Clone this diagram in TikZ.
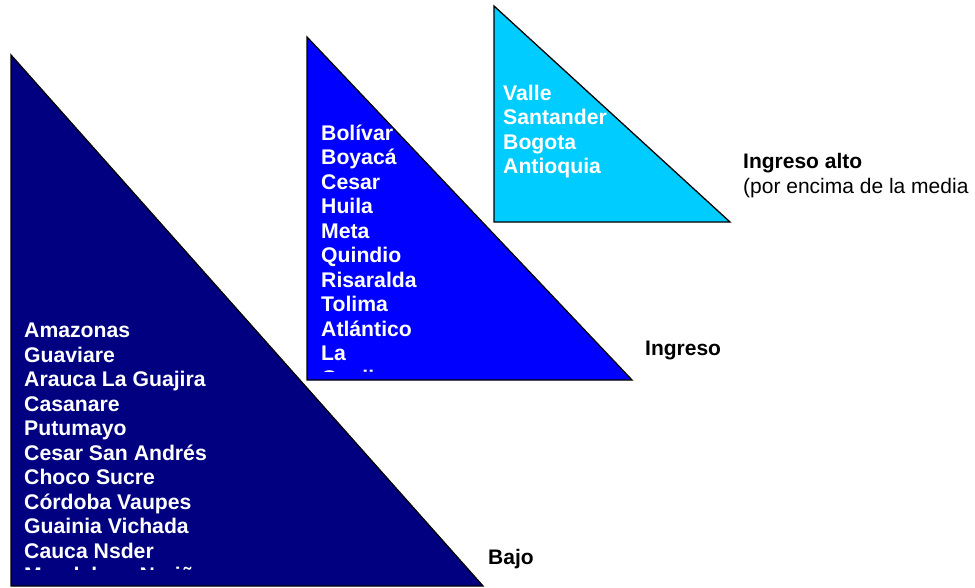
\documentclass[tikz,border=0pt]{standalone}
\usepackage{fontspec}
\setmainfont{Liberation Sans}
\begin{document}
\begin{tikzpicture}[x=1pt,y=-1pt,
  tri/.style={draw=black,line width=1.3pt,line join=miter},
  intext/.style={text=white,font=\fontsize{21.2}{24.5}\selectfont\bfseries,align=left,anchor=base west,inner sep=0pt},
  lbl/.style={text=black,font=\fontsize{21}{25}\selectfont,align=left,anchor=base west,inner sep=0pt}]
\definecolor{navyc}{HTML}{000080}
\definecolor{bluec}{HTML}{0000FF}
\definecolor{cyanc}{HTML}{00CCFF}
\useasboundingbox (0,0) rectangle (975,587);
% triangles
\draw[tri,fill=navyc] (11,55) -- (11,586) -- (483,586) -- cycle;
\draw[tri,fill=bluec] (307,37) -- (307,380) -- (632,380) -- cycle;
\draw[tri,fill=cyanc] (494,6) -- (494,222) -- (730,222) -- cycle;
% texts (anchored at the baseline of their last line)
\begin{scope}
\clip (11,55) rectangle (483,569.5);
\node[intext] (bajotxt) at (24,582.5) {Amazonas\\Guaviare\\Arauca La Guajira\\Casanare\\Putumayo\\Cesar San Andrés\\Choco Sucre\\Córdoba Vaupes\\Guainia Vichada\\Cauca Nsder\\Magdalena Nariño};
\end{scope}
\begin{scope}
\clip (307,37) rectangle (632,371.5);
\node[intext] (medtxt) at (321,385) {Bolívar\\Boyacá\\Cesar\\Huila\\Meta\\Quindio\\Risaralda\\Tolima\\Atlántico\\La\\Guajira};
\end{scope}
\node[intext] (altotxt) at (503,173.5) {Valle\\Santander\\Bogota\\Antioquia};
% labels
\node[lbl] (altolbl) at (743,193) {\textbf{Ingreso alto}\\(por encima de la media};
\node[lbl] (medlbl) at (645,355) {\textbf{Ingreso}};
\node[lbl] (bajolbl) at (488,564) {\textbf{Bajo}};
\end{tikzpicture}
\end{document}
